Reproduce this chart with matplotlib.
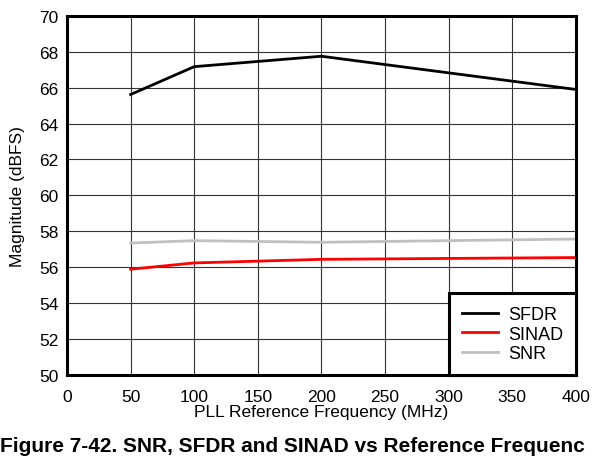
import matplotlib.pyplot as plt

plt.rcParams['font.family'] = ['Liberation Sans', 'DejaVu Sans']

freq = [50, 100, 200, 400]
sfdr = [65.62, 67.17, 67.75, 65.9]
sinad = [55.89, 56.24, 56.44, 56.54]
snr = [57.35, 57.48, 57.39, 57.57]

fig = plt.figure(figsize=(5.93, 4.64), dpi=100)
ax = fig.add_axes([0.113, 0.1897, 0.858, 0.774])

ax.plot(freq, sfdr, color='black', lw=2.0, label='SFDR')
ax.plot(freq, sinad, color='#ff0000', lw=2.0, label='SINAD')
ax.plot(freq, snr, color='#c0c0c0', lw=2.0, label='SNR')

ax.set_xlim(0, 400)
ax.set_ylim(50, 70)
ax.set_xticks(range(0, 401, 50))
ax.set_yticks(range(50, 71, 2))
ax.grid(True, color='#333333', lw=0.8)
ax.tick_params(axis='x', length=0, labelsize=12.5, pad=10)
ax.tick_params(axis='y', length=0, labelsize=12.5, pad=6)

for s in ax.spines.values():
    s.set_linewidth(2.2)
    s.set_zorder(5)

ax.set_xlabel('PLL Reference Frequency (MHz)', fontsize=12.5, labelpad=0)
ax.set_ylabel('Magnitude (dBFS)', fontsize=12.5, labelpad=10)

leg = ax.legend(loc='lower right', fontsize=13, fancybox=False, framealpha=1,
                edgecolor='black', borderaxespad=0, handlelength=2.0,
                handletextpad=0.55, borderpad=0.7, labelspacing=0.15)
leg.get_frame().set_linewidth(2.2)

fig.text(0.0, 0.037, 'Figure 7-42. SNR, SFDR and SINAD vs Reference Frequenc',
         fontsize=15.0, fontweight='bold', ha='left', va='center')

fig.savefig('out.png', dpi=100)
